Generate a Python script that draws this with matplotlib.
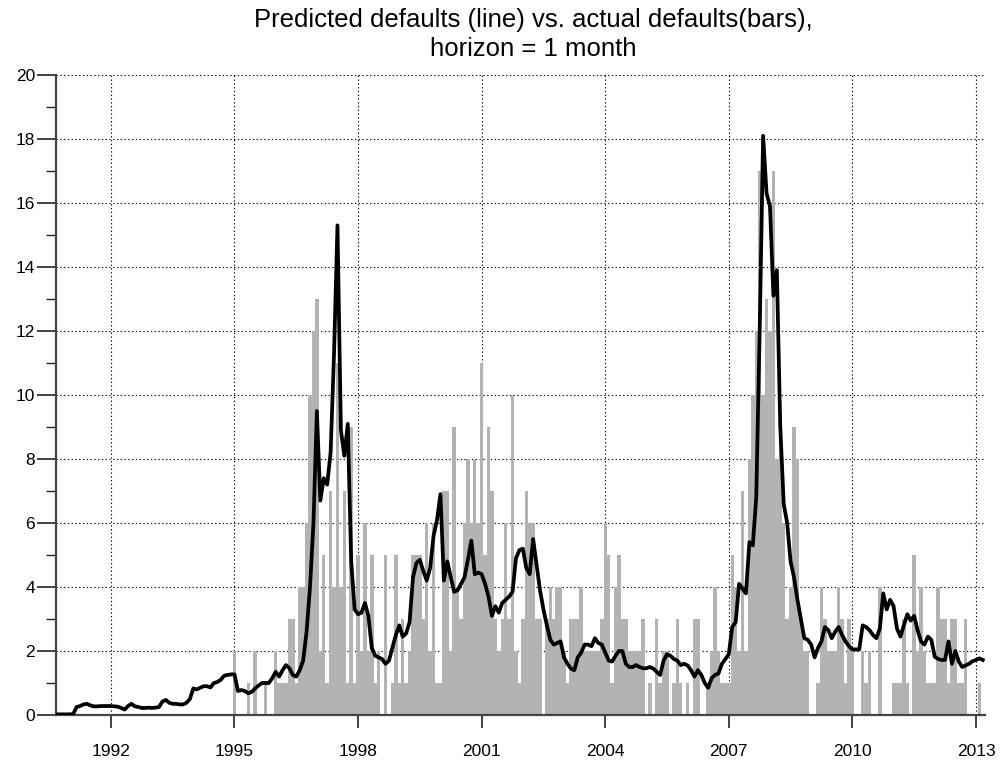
import matplotlib
matplotlib.use("Agg")
import matplotlib.pyplot as plt
import numpy as np

# ---------------- data ----------------
# actual monthly defaults (bars), starting Jan 1995
bars_1995 = [2, 0, 0, 0, 1, 0, 2, 0, 0, 1, 0, 0]
bars_1996 = [2, 1, 1, 1, 3, 3, 1, 4, 4, 6, 10, 12]
bars_1997 = [13, 2, 5, 1, 7, 4, 11, 4, 7, 1, 9, 1]
bars_1998 = [5, 2, 6, 2, 5, 1, 2, 0, 5, 0, 1, 5]
bars_1999 = [1, 3, 1, 2, 5, 5, 5, 3, 6, 2, 6, 1]
bars_2000 = [1, 7, 7, 2, 9, 4, 3, 6, 8, 6, 8, 6]
bars_2001 = [11, 5, 9, 7, 3, 2, 3, 6, 3, 10, 2, 1]
bars_2002 = [3, 7, 6, 6, 3, 3, 0, 3, 4, 3, 4, 4]
bars_2003 = [2, 1, 3, 3, 3, 4, 2, 2, 2, 2, 2, 3]
bars_2004 = [6, 5, 1, 4, 5, 3, 3, 2, 2, 2, 2, 3]
bars_2005 = [0, 1, 0, 3, 1, 2, 2, 0, 1, 3, 1, 0]
bars_2006 = [1, 0, 3, 3, 0, 0, 1, 2, 4, 2, 1, 1]
bars_2007 = [1, 5, 4, 2, 7, 2, 8, 10, 12, 17, 10, 13]
bars_2008 = [12, 17, 8, 9, 6, 3, 4, 9, 8, 3, 2, 2]
bars_2009 = [0, 0, 1, 4, 3, 2, 2, 2, 4, 3, 1, 3]
bars_2010 = [2, 0, 0, 2, 1, 2, 0, 0, 4, 0, 0, 0]
bars_2011 = [1, 1, 1, 3, 1, 0, 5, 2, 4, 2, 1, 1]
bars_2012 = [1, 4, 3, 3, 1, 3, 3, 1, 1, 3, 0, 0]
bars_2013 = [0, 1, 0]
bar_start_year = 1995

# predicted defaults (line), starting Sep 1990
pred_1990 = [0.02, 0.02, 0.02, 0.02]
pred_1991 = [0.02, 0.03, 0.25, 0.28, 0.33, 0.35, 0.30, 0.27, 0.27, 0.28, 0.28, 0.28]
pred_1992 = [0.28, 0.27, 0.26, 0.22, 0.17, 0.28, 0.35, 0.27, 0.25, 0.22, 0.22, 0.23]
pred_1993 = [0.22, 0.23, 0.25, 0.42, 0.47, 0.38, 0.35, 0.35, 0.33, 0.33, 0.38, 0.50]
pred_1994 = [0.83, 0.80, 0.85, 0.90, 0.90, 0.86, 1.00, 1.03, 1.10, 1.23, 1.25, 1.27]
pred_1995 = [1.27, 0.75, 0.78, 0.75, 0.68, 0.72, 0.83, 0.92, 1.00, 1.00, 1.00, 1.15]
pred_1996 = [1.35, 1.20, 1.40, 1.56, 1.46, 1.25, 1.20, 1.40, 1.70, 2.60, 4.00, 6.00]
pred_1997 = [9.5, 6.7, 7.4, 7.2, 8.2, 11.3, 15.3, 8.9, 8.1, 9.1, 4.8, 3.3]
pred_1998 = [3.15, 3.2, 3.5, 3.1, 2.1, 1.85, 1.8, 1.75, 1.6, 1.7, 2.1, 2.5]
pred_1999 = [2.8, 2.45, 2.55, 2.9, 4.3, 4.75, 4.85, 4.5, 4.2, 4.6, 5.6, 6.1]
pred_2000 = [6.9, 4.2, 4.8, 4.3, 3.85, 3.9, 4.1, 4.3, 4.85, 5.45, 4.4, 4.45]
pred_2001 = [4.4, 4.1, 3.7, 3.1, 3.4, 3.2, 3.5, 3.6, 3.7, 3.85, 4.9, 5.15]
pred_2002 = [5.2, 4.6, 4.4, 5.5, 4.7, 3.9, 3.3, 2.8, 2.35, 2.2, 2.25, 2.3]
pred_2003 = [1.8, 1.6, 1.45, 1.4, 1.8, 1.95, 2.2, 2.2, 2.15, 2.4, 2.25, 2.2]
pred_2004 = [1.95, 1.7, 1.67, 1.85, 2.0, 2.0, 1.6, 1.5, 1.5, 1.56, 1.5, 1.46]
pred_2005 = [1.46, 1.5, 1.45, 1.35, 1.25, 1.7, 1.9, 1.85, 1.75, 1.7, 1.56, 1.6]
pred_2006 = [1.55, 1.4, 1.2, 1.4, 1.25, 1.0, 0.85, 1.15, 1.25, 1.3, 1.6, 1.75]
pred_2007 = [1.9, 2.75, 2.9, 4.1, 3.95, 3.8, 5.4, 5.3, 6.8, 12.0, 18.1, 16.3]
pred_2008 = [15.9, 13.1, 13.9, 9.0, 6.6, 6.0, 4.8, 4.3, 3.6, 3.0, 2.4, 2.35]
pred_2009 = [2.2, 1.8, 2.1, 2.3, 2.75, 2.65, 2.4, 2.6, 2.75, 2.5, 2.3, 2.15]
pred_2010 = [2.05, 2.05, 2.05, 2.8, 2.75, 2.65, 2.5, 2.4, 2.7, 3.8, 3.3, 3.6]
pred_2011 = [3.4, 2.7, 2.45, 2.8, 3.15, 2.95, 3.1, 2.65, 2.3, 2.2, 2.45, 2.35]
pred_2012 = [1.82, 1.75, 1.72, 1.72, 2.3, 1.6, 2.0, 1.67, 1.5, 1.55, 1.6, 1.68]
pred_2013 = [1.72, 1.77, 1.72]
pred_start = 1990 + 8 / 12.0

year_ticks = [1992, 1995, 1998, 2001, 2004, 2007, 2010, 2013]
y_ticks = list(range(0, 21, 2))

bar_values = (bars_1995 + bars_1996 + bars_1997 + bars_1998 + bars_1999 + bars_2000 +
              bars_2001 + bars_2002 + bars_2003 + bars_2004 + bars_2005 + bars_2006 +
              bars_2007 + bars_2008 + bars_2009 + bars_2010 + bars_2011 + bars_2012 +
              bars_2013)
pred_values = (pred_1990 + pred_1991 + pred_1992 + pred_1993 + pred_1994 + pred_1995 +
               pred_1996 + pred_1997 + pred_1998 + pred_1999 + pred_2000 + pred_2001 +
               pred_2002 + pred_2003 + pred_2004 + pred_2005 + pred_2006 + pred_2007 +
               pred_2008 + pred_2009 + pred_2010 + pred_2011 + pred_2012 + pred_2013)

bar_t = bar_start_year + np.arange(len(bar_values)) / 12.0
pred_t = pred_start + np.arange(len(pred_values)) / 12.0

# ---------------- plot ----------------
plt.rcParams['font.family'] = ['Liberation Sans', 'DejaVu Sans']

fig = plt.figure(figsize=(10.06, 7.66), dpi=100)
ax = fig.add_axes([56 / 1006, 51 / 766, 929 / 1006, 640 / 766])

ax.bar(bar_t, bar_values, width=1 / 12.0, color='#b3b3b3', linewidth=0, zorder=2)
ax.plot(pred_t, pred_values, color='black', linewidth=2.7, zorder=3,
        solid_joinstyle='round')

ax.set_xlim(pred_start, 2013.22)
ax.set_ylim(0, 20)
ax.set_xticks(year_ticks)
ax.set_yticks(y_ticks)
ax.set_yticks(range(1, 20, 2), minor=True)
ax.tick_params(axis='y', which='major', direction='out', length=13.5, width=1.2,
               labelsize=12.5, pad=1.5, color='#222222')
ax.tick_params(axis='y', which='minor', direction='out', length=7, width=1.0,
               color='#222222')
ax.tick_params(axis='x', which='major', direction='out', length=9, width=1.2,
               labelsize=12.5, pad=12, color='#222222')

ax.set_axisbelow(True)
ax.grid(True, which='major', color='black', linestyle=(0, (1.2, 2.2)), linewidth=0.8)

for s in ['top', 'right']:
    ax.spines[s].set_visible(False)
for s in ['left', 'bottom']:
    ax.spines[s].set_color('#444444')
    ax.spines[s].set_linewidth(1.6)

fig.text(0.530, 0.990, 'Predicted defaults (line) vs. actual defaults(bars),\nhorizon = 1 month',
         ha='center', va='top', fontsize=18.5, linespacing=1.28)

fig.savefig('out.png', dpi=100)
